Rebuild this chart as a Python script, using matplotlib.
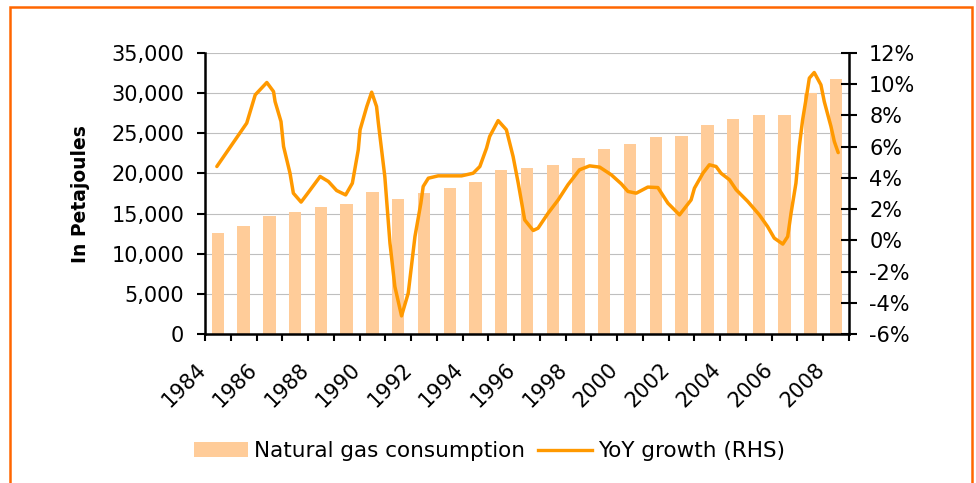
import matplotlib
matplotlib.use("Agg")
import matplotlib.pyplot as plt
from matplotlib.patches import Rectangle
from matplotlib.lines import Line2D
from matplotlib.patches import Patch
import matplotlib.transforms as mtransforms
import numpy as np

plt.rcParams['font.family'] = ['DejaVu Sans']
plt.rcParams['axes.unicode_minus'] = False

# ---- data ----
years = list(range(1984, 2009))
gas_pj = [12580, 13450, 14700, 15190, 15820, 16230, 17690, 16820, 17560, 18190,
          18930, 20430, 20720, 21050, 21920, 23040, 23670, 24540, 24660, 26030,
          26780, 27280, 27280, 29980, 31760]

# YoY growth line (position in years since 1984, %)
yoy_pos = [-0.04, 0.54, 1.12, 1.45, 1.90, 2.16, 2.22, 2.45, 2.55, 2.80, 2.93, 3.23,
           3.49, 3.97, 4.29, 4.61, 4.96, 5.22, 5.45, 5.52, 5.78, 5.97, 6.16, 6.23,
           6.48, 6.68, 6.87, 7.13, 7.39, 7.65, 7.88, 7.97, 8.17, 8.55, 9.46, 9.91,
           10.17, 10.43, 10.55, 10.88, 11.20, 11.46, 11.66, 11.91, 12.24, 12.43,
           12.82, 13.21, 13.59, 14.04, 14.43, 14.82, 15.27, 15.66, 15.92, 16.24,
           16.69, 17.08, 17.47, 17.92, 18.37, 18.50, 18.83, 19.08, 19.34, 19.53,
           19.86, 20.12, 20.57, 21.02, 21.34, 21.60, 21.93, 22.12, 22.25, 22.44,
           22.57, 22.70, 22.87, 22.96, 23.15, 23.41, 23.54, 23.80, 23.93, 24.08]
yoy_pct = [4.73, 6.12, 7.51, 9.32, 10.11, 9.53, 8.89, 7.61, 6.01, 4.30, 3.02, 2.45,
           3.02, 4.09, 3.77, 3.19, 2.91, 3.66, 5.80, 7.08, 8.57, 9.49, 8.57, 7.51,
           4.09, -0.18, -2.96, -4.84, -3.38, 0.24, 2.38, 3.45, 3.98, 4.13, 4.13, 4.30,
           4.73, 5.91, 6.65, 7.67, 7.08, 5.37, 3.66, 1.31, 0.63, 0.78,
           1.74, 2.59, 3.56, 4.52, 4.77, 4.69, 4.20, 3.62, 3.13, 3.02,
           3.41, 3.38, 2.38, 1.63, 2.59, 3.34, 4.30, 4.84, 4.73, 4.30,
           3.88, 3.24, 2.49, 1.63, 0.88, 0.14, -0.24, 0.24, 1.74, 3.66,
           6.01, 7.72, 9.43, 10.39, 10.75, 9.96, 8.89, 7.29, 6.33, 5.62]

left_ticks = [0, 5000, 10000, 15000, 20000, 25000, 30000, 35000]
right_ticks = [-6, -4, -2, 0, 2, 4, 6, 8, 10, 12]
label_years = years[::2]

bar_color = '#FFCC99'
line_color = '#FF9900'
frame_color = '#FF6600'

W, H = 976, 483
fig = plt.figure(figsize=(W / 100, H / 100), dpi=100)

# orange frame
fig.patches.append(Rectangle((10 / W, -0.05), (972 - 10) / W, 1.05 - 7 / H,
                             transform=fig.transFigure, fill=False,
                             edgecolor=frame_color, linewidth=1.8))

ax = fig.add_axes([205 / W, 1 - 334 / H, (849 - 205) / W, (334 - 53) / H])
x = np.arange(len(years))
ax.bar(x, gas_pj, width=0.48, color=bar_color, zorder=2)
ax.set_xlim(-0.5, len(years) - 0.5)
ax.set_ylim(0, 35000)
ax.set_yticks(left_ticks)
ax.set_yticklabels([f"{v:,}" for v in left_ticks], fontsize=15)
ax.yaxis.grid(True, color='#BFBFBF', linewidth=0.8)
ax.set_axisbelow(True)
ax.set_xticks(np.arange(-0.5, len(years), 1.0))
ax.set_xticklabels([])
ax.tick_params(axis='x', direction='out', length=5, width=1.5, color='black')
ax.tick_params(axis='y', direction='out', length=6, width=1.5, color='black', pad=9)
for s in ['top', 'right']:
    ax.spines[s].set_visible(False)
for s in ['left', 'bottom']:
    ax.spines[s].set_linewidth(1.8)
    ax.spines[s].set_color('black')

# rotated year labels
base = mtransforms.blended_transform_factory(ax.transData, ax.transAxes)
off = mtransforms.ScaledTranslation(-22 / 100, -25 / 100, fig.dpi_scale_trans)
for yr in label_years:
    ax.text(yr - years[0], 0, str(yr), rotation=45, rotation_mode='anchor',
            ha='right', va='top', fontsize=15, transform=base + off)

ax2 = ax.twinx()
ax2.plot(yoy_pos, yoy_pct, color=line_color, linewidth=2.5, solid_capstyle='round',
         solid_joinstyle='round', zorder=3)
ax2.set_ylim(-6, 12)
ax2.set_yticks(right_ticks)
ax2.set_yticklabels([f"{v}%" for v in right_ticks], fontsize=15)
ax2.tick_params(axis='y', direction='inout', length=11, width=1.5, color='black', pad=9)
for s in ['top', 'left', 'bottom']:
    ax2.spines[s].set_visible(False)
ax2.spines['right'].set_linewidth(1.8)
ax2.spines['right'].set_color('black')

fig.text(80 / W, 1 - 194 / H, 'In Petajoules', rotation=90, ha='center', va='center',
         fontsize=13.5, fontweight='bold')

handles = [Patch(facecolor=bar_color, edgecolor='none'),
           Line2D([0], [0], color=line_color, linewidth=2.4)]
fig.legend(handles, ['Natural gas consumption', 'YoY growth (RHS)'], loc='center',
           bbox_to_anchor=(489.5 / W, 1 - 451 / H), ncol=2, frameon=False,
           fontsize=15.5, handlelength=2.5, handleheight=0.65, handletextpad=0.3,
           columnspacing=0.6)

fig.savefig('out.png', dpi=100)
